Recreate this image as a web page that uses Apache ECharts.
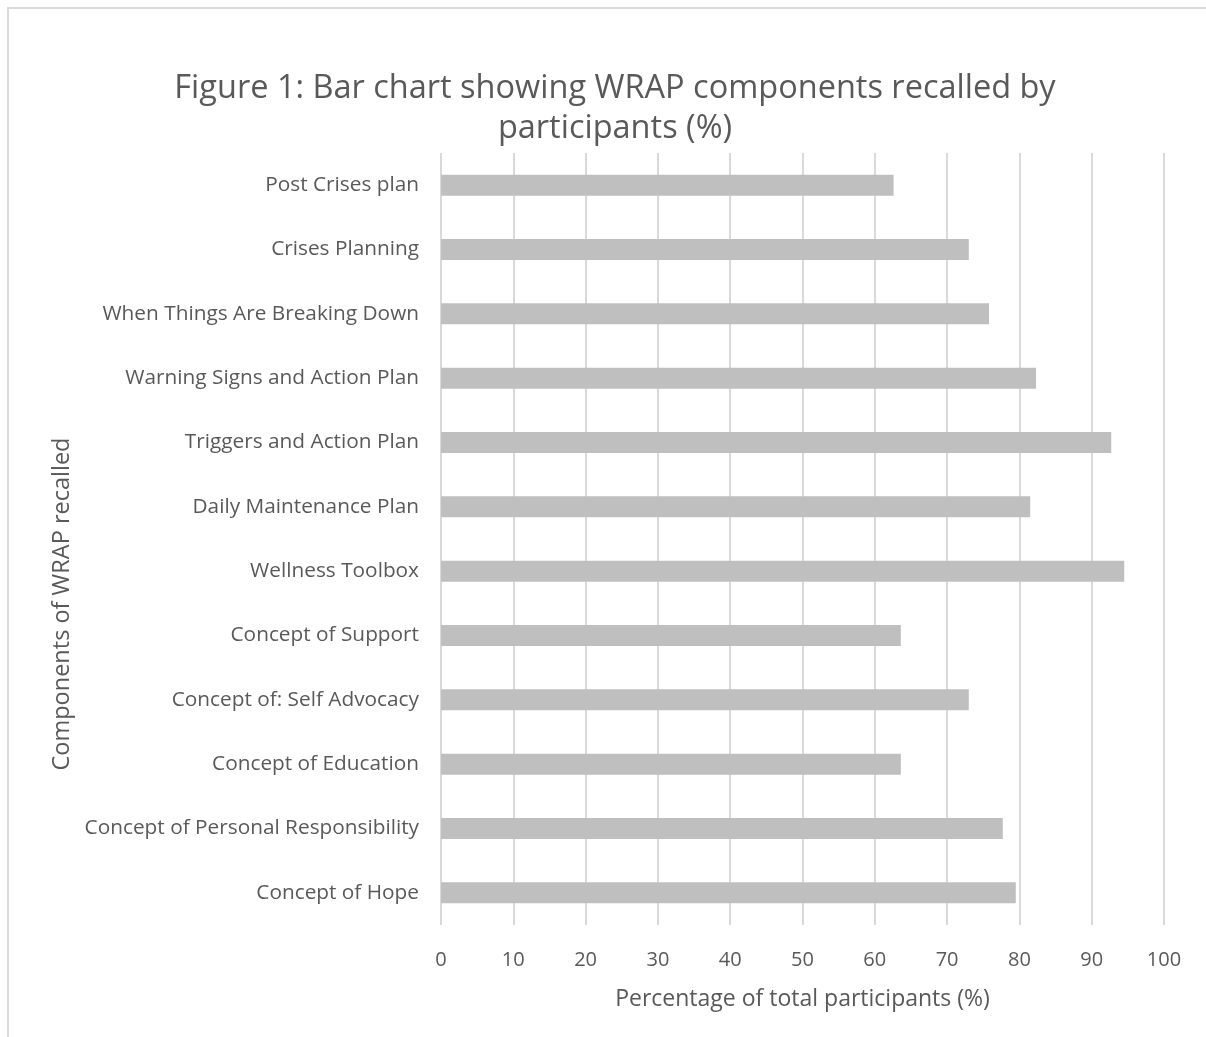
<!DOCTYPE html>
<html>
<head>
<meta charset="utf-8">
<style>
  html, body { margin: 0; padding: 0; background: #ffffff; }
  #chart { width: 1206px; height: 1037px; }
</style>
<script src="https://cdn.jsdelivr.net/npm/echarts@6/dist/echarts.min.js"></script>
</head>
<body>
<div id="chart"></div>
<script>
// WRAP components, listed bottom to top as drawn on the category axis
const components = [
  'Concept of Hope',
  'Concept of Personal Responsibility',
  'Concept of Education',
  'Concept of: Self Advocacy',
  'Concept of Support',
  'Wellness Toolbox',
  'Daily Maintenance Plan',
  'Triggers and Action Plan',
  'Warning Signs and Action Plan',
  'When Things Are Breaking Down',
  'Crises Planning',
  'Post Crises plan'
];

// Percentage of participants recalling each component
const recalledPct = [79.5, 77.7, 63.6, 73.0, 63.6, 94.5, 81.5, 92.7, 82.3, 75.8, 73.0, 62.6];

// Value axis ticks
const xTicks = [0, 10, 20, 30, 40, 50, 60, 70, 80, 90, 100];

const titleText = 'Figure 1: Bar chart showing WRAP components recalled by\nparticipants (%)';
const xAxisTitle = 'Percentage of total participants (%)';
const yAxisTitle = 'Components of WRAP recalled';

const FONT = '"Open Sans", "Noto Sans", sans-serif';
const TEXT = '#595959';

const chart = echarts.init(document.getElementById('chart'), null, { renderer: 'canvas' });

chart.setOption({
  backgroundColor: '#ffffff',
  animation: false,
  title: {
    text: titleText,
    left: 610,
    top: 64,
    textAlign: 'center',
    textStyle: {
      fontFamily: FONT,
      fontSize: 32.5,
      fontWeight: 'normal',
      color: TEXT,
      lineHeight: 40,
      align: 'center'
    }
  },
  grid: {
    left: 441,
    right: 42,
    top: 153,
    bottom: 112,
    containLabel: false
  },
  xAxis: {
    type: 'value',
    min: xTicks[0],
    max: xTicks[xTicks.length - 1],
    interval: 10,
    name: xAxisTitle,
    nameLocation: 'middle',
    nameGap: 63,
    nameTextStyle: { fontFamily: FONT, fontSize: 23, color: TEXT },
    axisLine: { show: false },
    axisTick: { show: false },
    axisLabel: {
      fontFamily: FONT,
      fontSize: 20,
      color: TEXT,
      margin: 25
    },
    splitLine: { show: true, lineStyle: { color: '#d9d9d9', width: 2 } }
  },
  yAxis: {
    type: 'category',
    data: components,
    axisLine: { show: false },
    axisTick: { show: false },
    axisLabel: {
      fontFamily: FONT,
      fontSize: 20.8,
      color: TEXT,
      margin: 22
    },
    splitLine: { show: false }
  },
  series: [{
    type: 'bar',
    data: recalledPct,
    barWidth: 21,
    itemStyle: { color: '#bfbfbf' },
    silent: true
  }],
  graphic: [
    {
      type: 'rect',
      shape: { x: 8, y: 8, width: 1220, height: 1060 },
      style: { fill: 'none', stroke: '#d9d9d9', lineWidth: 2 },
      silent: true,
      z: -1
    },
    {
      type: 'text',
      x: 62,
      y: 604,
      rotation: Math.PI / 2,
      style: {
        text: yAxisTitle,
        fontFamily: FONT,
        fontSize: 23.5,
        fill: TEXT,
        textAlign: 'center',
        textVerticalAlign: 'middle'
      },
      silent: true
    }
  ]
});
</script>
</body>
</html>
